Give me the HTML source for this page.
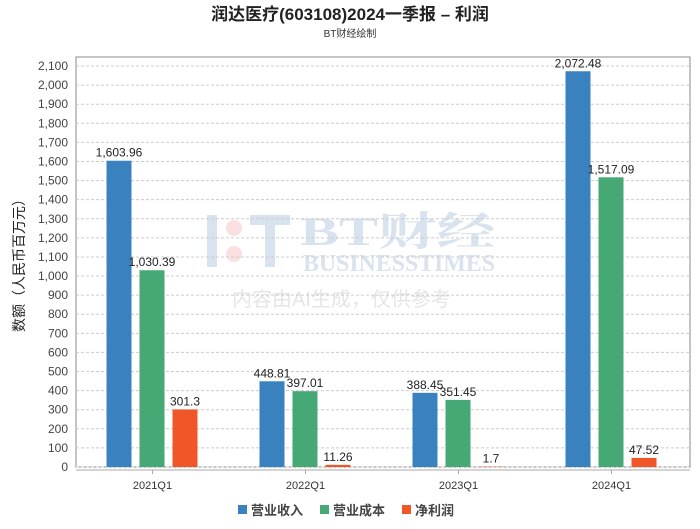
<!DOCTYPE html>
<html><head><meta charset="utf-8"><style>
body{margin:0;background:#fff;width:700px;height:524px;overflow:hidden;font-family:"Liberation Sans","Noto Sans CJK SC",sans-serif}
</style></head><body>
<svg id="c" width="700" height="524" xmlns="http://www.w3.org/2000/svg" font-family="Liberation Sans, Noto Sans CJK SC, sans-serif">
<text x="350" y="20" text-anchor="middle" font-size="17" font-weight="bold" fill="#222">润达医疗(603108)2024一季报 – 利润</text>
<text x="350" y="37" text-anchor="middle" font-size="10" fill="#333">BT财经绘制</text>
<g opacity="0.25">
<rect x="207" y="215" width="10" height="52" fill="#6a8fc0"/><circle cx="234" cy="228" r="8" fill="#e88"/><circle cx="234" cy="254" r="8" fill="#e88"/>
<rect x="250" y="215" width="40" height="10" fill="#6a8fc0"/><rect x="265" y="225" width="10" height="42" fill="#6a8fc0"/>
<text x="300" y="245" font-size="40" font-weight="bold" fill="#6a8fc0" font-family="Liberation Serif, Noto Serif CJK SC, serif" textLength="195" lengthAdjust="spacingAndGlyphs">BT财经</text>
<text x="303" y="271" font-size="24" font-weight="bold" fill="#6a8fc0" font-family="Liberation Serif, serif" textLength="192" lengthAdjust="spacingAndGlyphs">BUSINESSTIMES</text>
<text x="232" y="306" font-size="20" fill="#999">内容由AI生成，仅供参考</text>
</g>
<text transform="translate(24,262) rotate(-90)" text-anchor="middle" font-size="14" fill="#222">数额（人民币百万元）</text>
<g id="plot"></g>
</svg>
<script>
const categories=["2021Q1","2022Q1","2023Q1","2024Q1"];
const revenue=[1603.96,448.81,388.45,2072.48];
const cost=[1030.39,397.01,351.45,1517.09];
const profit=[301.3,11.26,1.7,47.52];
const revLabels=["1,603.96","448.81","388.45","2,072.48"];
const costLabels=["1,030.39","397.01","351.45","1,517.09"];
const profitLabels=["301.3","11.26","1.7","47.52"];
const yTicks=[0,100,200,300,400,500,600,700,800,900,1000,1100,1200,1300,1400,1500,1600,1700,1800,1900,2000,2100];
const seriesNames=["营业收入","营业成本","净利润"];
const colors=["#3a81c0","#46a874","#f15628"];
const NS="http://www.w3.org/2000/svg";
const L=76,R=688,T=57,B=467;
const y=v=>B-v*(467-66)/2100;
const bw=(R-L)/categories.length;
const x=i=>L+bw*i+bw/2;
const g=document.getElementById('plot');
function mk(t,a,p){const e=document.createElementNS(NS,t);for(const k in a)e.setAttribute(k,a[k]);(p||g).appendChild(e);return e;}
let f=mk('rect',{x:L,y:T,width:R-L+2,height:B-T,fill:'none',stroke:'#888'});


yTicks.forEach(v=>{
 const gl=mk('line',{x1:L,x2:R+2,y1:y(v),y2:y(v),stroke:'#ccc','stroke-dasharray':'3,2'});
 
 
 const t=mk('text',{x:L-8,y:y(v)+4,'text-anchor':'end','font-size':12,fill:'#444'});
 t.textContent=v.toLocaleString('en-US');
 
 
});
mk('line',{x1:L,x2:R+2,y1:B+3,y2:B+3,stroke:'#aaa'});
const data=[revenue,cost,profit],labs=[revLabels,costLabels,profitLabels];
categories.forEach((c,i)=>{
 const tk=mk('line',{x1:x(i),x2:x(i),y1:B+3,y2:B+7,stroke:'#aaa'});
 const t=mk('text',{x:x(i),y:B+22,'text-anchor':'middle','font-size':11,fill:'#333'});
 t.textContent=c;
 
 
 data.forEach((s,j)=>{
  const bx=x(i)-46+j*33;
  const r=mk('rect',{x:bx,y:y(s[i]),width:25,height:B-y(s[i]),fill:colors[j]});
  
  
  const l=mk('text',{x:bx+12.5,y:y(s[i])-4,'text-anchor':'middle','font-size':12,fill:'#222'});
  l.textContent=labs[j][i];
  
  
 });
});
let lx=238;
seriesNames.forEach((n,j)=>{
 const r=mk('rect',{x:lx,y:505,width:9,height:9,fill:colors[j]});
 
 
 const t=mk('text',{x:lx+13,y:515,'font-size':13,'font-weight':'bold',fill:'#444'});
 t.textContent=n;
 
 
 lx+=n.length*14+26;
});
</script>
</body></html>
